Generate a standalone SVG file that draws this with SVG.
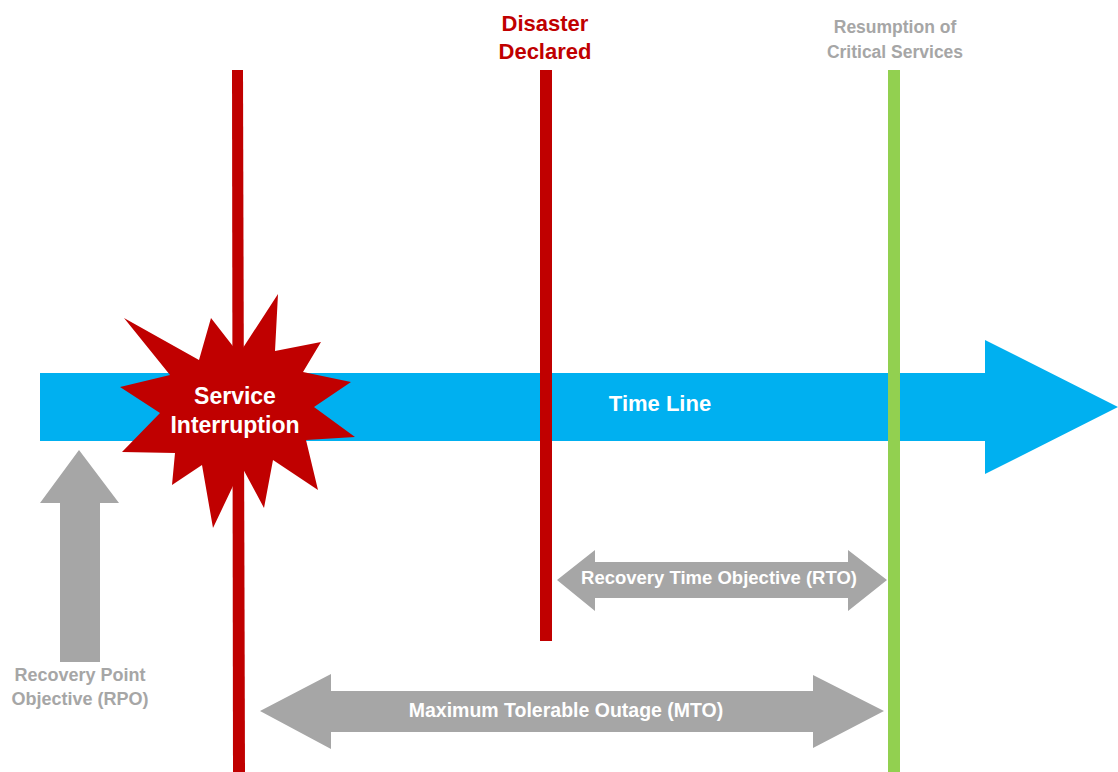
<svg xmlns="http://www.w3.org/2000/svg" width="1118" height="772" viewBox="0 0 1118 772">
<style>
text{font-family:"Liberation Sans",Arial,sans-serif;font-weight:bold;text-anchor:middle}
.gray{fill:#A6A6A6}
.red{fill:#C00000}
.wt{fill:#FFFFFF}
.lbl{font-size:18px}
.big{font-size:22px}
</style>
<rect width="1118" height="772" fill="#FFFFFF"/>
<g id="timeline">
<polygon points="40,373 985,373 985,340 1118,407 985,474 985,441 40,441" fill="#00B0F0"/>
<text class="wt big" x="660" y="411">Time Line</text>
</g>
<g id="connectors">
<polygon id="interruption-line" class="red" points="232,70 243,70 245,772 233,772"/>
<rect id="disaster-line" class="red" x="540" y="70" width="12" height="571"/>
<rect id="resumption-line" x="888" y="70" width="12" height="702" fill="#92D050"/>
</g>
<g id="service-interruption">
<polygon class="red" points="124,318 199,360 211,318 239,354 278,294 275,351 321,342 303,372 351,382 314,407 355,437 306,440 318,490 273,460 264,508 242,467 213,528 202,465 172,485 175,453 122,452 160,413 120,387 170,375"/>
<text class="wt" font-size="23" x="235" y="404">Service</text>
<text class="wt" font-size="23" x="235" y="433">Interruption</text>
</g>
<g id="disaster-declared">
<text class="red big" x="545" y="31">Disaster</text>
<text class="red big" x="545" y="59">Declared</text>
</g>
<g id="resumption">
<text class="gray" font-size="17.5" x="895" y="33">Resumption of</text>
<text class="gray" font-size="17.5" x="895" y="58">Critical Services</text>
</g>
<g id="rpo">
<polygon class="gray" points="79,450 119,503 100,503 100,662 60,662 60,503 40,503"/>
<text class="gray lbl" x="80" y="681">Recovery Point</text>
<text class="gray lbl" x="80" y="705">Objective (RPO)</text>
</g>
<g id="rto">
<polygon class="gray" points="557,580 595,550 595,562 848,562 848,550 887,580 848,611 848,598 595,598 595,611"/>
<text class="wt" font-size="18.5" x="719" y="584">Recovery Time Objective (RTO)</text>
</g>
<g id="mto">
<polygon class="gray" points="260,711 331,674 331,691 813,691 813,675 884,711 813,748 813,732 331,732 331,749"/>
<text class="wt" font-size="19.5" x="566" y="717">Maximum Tolerable Outage (MTO)</text>
</g>
</svg>
